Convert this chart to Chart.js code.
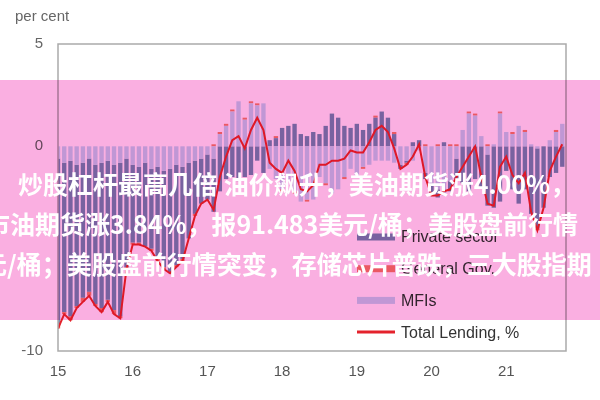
<!DOCTYPE html>
<html>
<head>
<meta charset="utf-8">
<script src="https://cdn.jsdelivr.net/npm/chart.js@4"></script>
<style>
  body { margin: 0; background: #fff; }
  #wrap { position: relative; width: 600px; height: 400px; overflow: hidden; }
  #chart { position: absolute; left: 0; top: 0; }
  .band { position: absolute; left: 0; top: 80px; width: 600px; height: 240px;
          background: rgb(250,175,225); mix-blend-mode: multiply; }
  .txt { position: absolute; color: #fff; font: bold 25px "Noto Sans CJK SC", sans-serif;
         line-height: 30px; white-space: nowrap; }
</style>
</head>
<body>
<div id="wrap">
  <canvas id="chart" width="600" height="400"></canvas>
  <div class="band"></div>
  <div class="txt" style="left:18px;top:168px">炒股杠杆最高几倍 油价飙升，美油期货涨4.00%，</div>
  <div class="txt" style="left:-15px;top:208px">市油期货涨3.84%，报91.483美元/桶；美股盘前行情</div>
  <div class="txt" style="left:-18px;top:248px">元/桶；美股盘前行情突变，存储芯片普跌，三大股指期</div>
</div>
<script>
// monthly, Jan 2015 onwards (x axis in years, "15" = 2015)
const startYear = 15;
const xTicks = [15, 16, 17, 18, 19, 20, 21];
const yTicks = [-10, 0, 5];

const totalLending = [
  -8.9, -8.2, -8.5, -7.9, -7.6, -7.3, -7.8, -8.1, -7.6, -8.2, -8.4, -6.0,
  -4.8, -4.8, -4.9, -5.1, -5.6, -6.0, -6.2, -5.9, -5.6, -4.5, -3.4, -2.8,
  -2.6, -3.1, -1.5, -0.5, 0.3, 0.5, -0.1, 0.8, 1.4, 0.8, -0.8, -1.1,
  -1.3, -0.7, -1.2, -2.1, -2.2, -1.9, -0.9, -0.9, -0.7, -0.7, -0.6, -0.2,
  -0.3, -0.3, 0.2, 0.8, 1.0, 0.7, -0.1, -1.1, -0.9, -0.5, 0.1, -1.5,
  -2.4, -2.4, -2.2, -2.1, -1.5, -1.0, -0.5, 0.0, -1.5, -2.8, -2.9, -1.0,
  -0.5, -1.4, -1.8, -1.3, -3.2, -4.1, -3.0, -1.2, -0.5, 0.1
];
const privateSector = [
  -8.1, -7.3, -7.6, -6.9, -6.6, -6.5, -6.8, -7.1, -6.8, -7.1, -7.5, -5.3,
  -3.8, -3.7, -4.1, -3.9, -4.5, -4.7, -5.1, -4.9, -4.5, -3.7, -2.6, -2.2,
  -2.2, -2.6, -2.2, -1.6, -1.5, -1.7, -1.5, -1.4, -0.7, -1.3, 0.3, 0.4,
  0.9, 1.0, 1.1, 0.6, 0.5, 0.7, 0.6, 1.0, 1.6, 1.4, 1.0, 0.9,
  1.1, 0.8, 1.1, 1.4, 1.7, 1.4, 0.6, -0.2, -0.1, 0.2, 0.3, -0.3,
  -0.6, -0.4, 0.2, -0.5, -1.0, -1.8, -2.2, -1.6, -2.0, -2.5, -3.0, -2.7,
  -1.2, -2.1, -2.8, -2.1, -3.3, -3.9, -3.0, -1.5, -1.3, -1.0
];
const generalGov = [
  -0.2, -0.1, -0.2, -0.1, -0.2, -0.2, -0.1, -0.2, -0.1, -0.2, -0.1, -0.1,
  -0.1, -0.1, 0.0, -0.1, -0.1, -0.1, 0.0, -0.1, -0.1, 0.0, -0.1, 0.0,
  0.0, 0.1, 0.1, 0.1, 0.1, 0.0, 0.1, 0.1, 0.1, 0.0, 0.0, 0.1,
  -0.1, 0.0, -0.1, 0.0, -0.1, 0.0, 0.0, -0.1, 0.0, 0.0, -0.1, 0.0,
  0.0, -0.1, 0.0, 0.1, 0.0, 0.0, 0.1, 0.0, -0.1, 0.0, 0.0, 0.1,
  0.0, 0.1, 0.0, 0.1, 0.1, 0.0, 0.1, 0.1, 0.0, 0.1, 0.0, 0.1,
  0.0, 0.1, 0.0, 0.1, 0.0, -0.1, 0.0, 0.0, 0.1, 0.0
];
const mfis = [
  -0.6, -0.8, -0.7, -0.9, -0.8, -0.6, -0.9, -0.8, -0.7, -0.9, -0.8, -0.6,
  -0.9, -1.0, -0.8, -1.1, -1.0, -1.2, -1.1, -0.9, -1.0, -0.8, -0.7, -0.6,
  -0.4, -0.6, 0.6, 1.0, 1.7, 2.2, 1.3, 2.1, 2.0, 2.1, -1.1, -1.6,
  -2.1, -1.7, -2.2, -2.7, -2.6, -2.6, -1.5, -1.8, -2.3, -2.1, -1.5, -1.1,
  -1.4, -1.0, -0.9, -0.7, -0.7, -0.7, -0.8, -0.9, -0.7, -0.7, -0.2, -1.3,
  -1.8, -2.1, -2.4, -1.7, -0.6, 0.8, 1.6, 1.5, 0.5, -0.4, 0.1, 1.6,
  0.7, 0.6, 1.0, 0.7, 0.1, -0.1, 0.0, 0.3, 0.7, 1.1
];

const legendOrder = ['Private sector', 'General Gov.', 'MFIs', 'Total Lending, %'];
const toPoints = arr => arr.map((v, i) => ({ x: startYear + i / 12, y: v }));
const font = { family: '"Liberation Sans", Arial, sans-serif', size: 15 };

// box round the plot, "per cent" label and the legend inside the plot
const framePlugin = {
  id: 'frame',
  afterDatasetsDraw(chart) {
    const { ctx, chartArea: a } = chart;
    ctx.save();
    ctx.strokeStyle = '#aaa';
    ctx.lineWidth = 1.5;
    ctx.strokeRect(a.left, a.top, a.right - a.left, a.bottom - a.top);

    ctx.fillStyle = '#666';
    ctx.font = '15px "Liberation Sans", Arial, sans-serif';
    ctx.textBaseline = 'middle';
    ctx.fillText('per cent', 15, 17);

    legendOrder.forEach((name, k) => {
      const ds = chart.data.datasets.find(d => d.label === name);
      const y = 237 + k * 31.7;
      if (ds.type === 'line') {
        ctx.strokeStyle = ds.borderColor;
        ctx.lineWidth = 3;
        ctx.beginPath();
        ctx.moveTo(357, y);
        ctx.lineTo(395, y);
        ctx.stroke();
      } else {
        ctx.fillStyle = ds.backgroundColor;
        ctx.fillRect(357, y - 3.5, 38, 7);
      }
      ctx.fillStyle = '#333';
      ctx.font = '16px "Liberation Sans", Arial, sans-serif';
      ctx.fillText(ds.label, 401, y + 1);
    });
    ctx.restore();
  }
};

const ctx = document.getElementById('chart').getContext('2d');
new Chart(ctx, {
  type: 'bar',
  data: {
    datasets: [
      {
        type: 'line',
        label: 'Total Lending, %',
        data: toPoints(totalLending),
        borderColor: '#e4222c',
        borderWidth: 2,
        pointRadius: 0,
        tension: 0,
        stack: 'line',
        order: 0
      },
      {
        label: 'MFIs',
        data: toPoints(mfis),
        backgroundColor: '#c4dcf2',
        stack: 'bars',
        order: 1
      },
      {
        label: 'Private sector',
        data: toPoints(privateSector),
        backgroundColor: '#7a8fb5',
        stack: 'bars',
        order: 1
      },
      {
        label: 'General Gov.',
        data: toPoints(generalGov),
        backgroundColor: '#f08070',
        stack: 'bars',
        order: 1
      }
    ]
  },
  options: {
    responsive: false,
    animation: false,
    layout: { padding: { top: 44, right: 34, left: 0, bottom: 0 } },
    datasets: { bar: { barPercentage: 0.7, categoryPercentage: 1 } },
    scales: {
      x: {
        type: 'linear',
        min: 15,
        max: 21.8,
        stacked: true,
        offset: false,
        grid: { display: false, drawTicks: false },
        border: { display: false },
        afterBuildTicks: s => { s.ticks = xTicks.map(v => ({ value: v })); },
        afterFit: s => { s.height = 49; },
        ticks: { color: '#555', font, padding: 12, maxRotation: 0, autoSkip: false }
      },
      y: {
        min: -10,
        max: 5,
        stacked: true,
        grid: { display: false, drawTicks: false },
        border: { display: false },
        afterBuildTicks: s => { s.ticks = yTicks.map(v => ({ value: v })); },
        afterFit: s => { s.width = 58; },
        ticks: { color: '#666', font, padding: 15 }
      }
    },
    plugins: { legend: { display: false }, tooltip: { enabled: false } }
  },
  plugins: [framePlugin]
});
</script>
</body>
</html>
